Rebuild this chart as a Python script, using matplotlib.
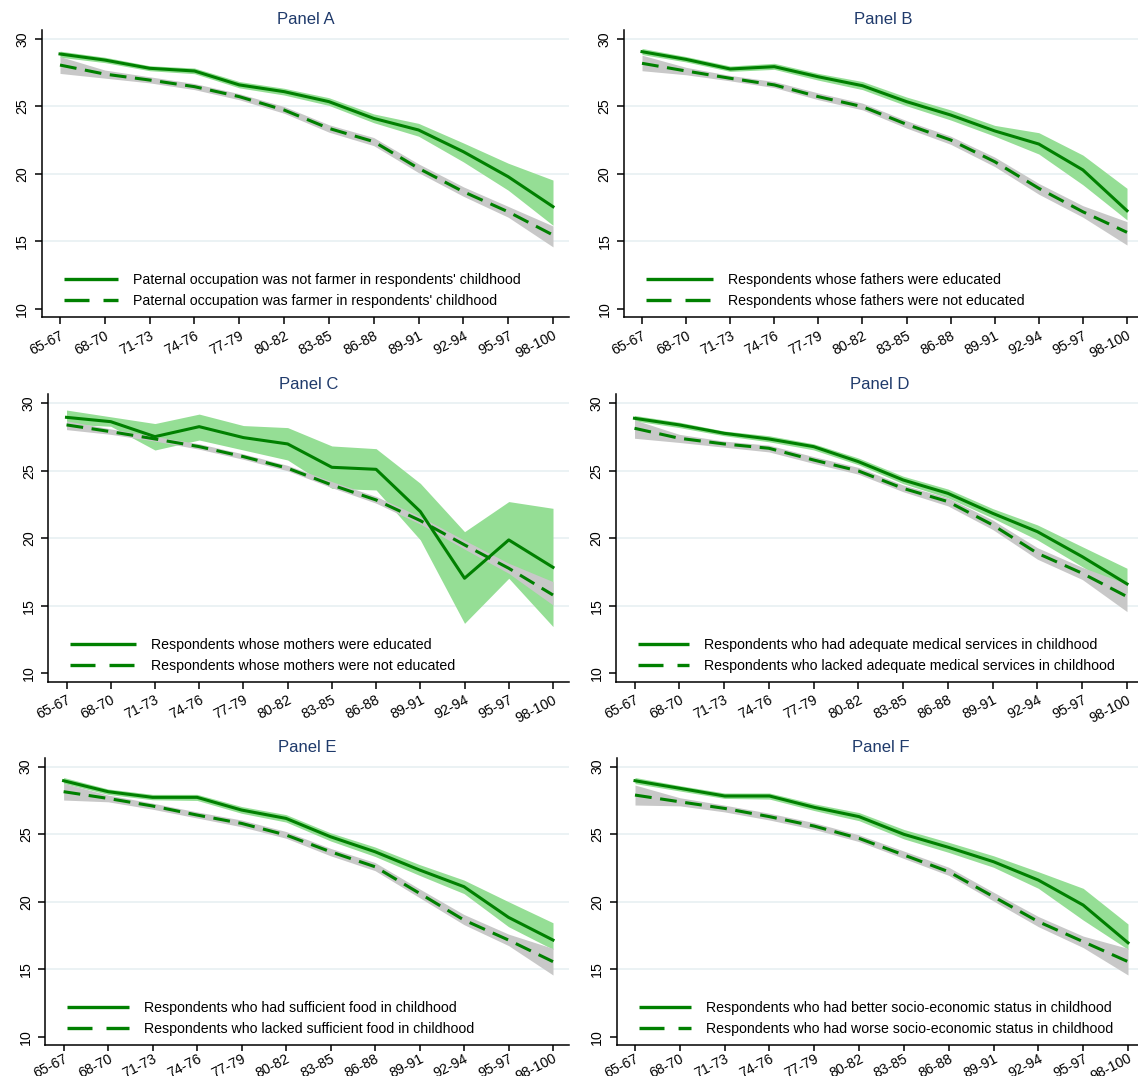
import matplotlib
matplotlib.use("Agg")
import matplotlib.pyplot as plt
import matplotlib.transforms as mtrans
from matplotlib.lines import Line2D

plt.rcParams['font.family'] = ['Liberation Sans', 'DejaVu Sans']

# age groups on the x axis
groups = ['65-67', '68-70', '71-73', '74-76', '77-79', '80-82',
          '83-85', '86-88', '89-91', '92-94', '95-97', '98-100']

# Panel A: paternal occupation
a_good = [28.89, 28.44, 27.83, 27.63, 26.60, 26.10, 25.36, 24.12, 23.26, 21.65, 19.80, 17.58]
a_good_lo = [28.65, 28.25, 27.65, 27.43, 26.38, 25.85, 25.08, 23.80, 22.80, 20.90, 18.80, 16.20]
a_good_hi = [29.10, 28.65, 28.02, 27.85, 26.85, 26.35, 25.65, 24.45, 23.75, 22.30, 20.80, 19.55]
a_bad = [28.07, 27.40, 26.96, 26.47, 25.73, 24.74, 23.38, 22.40, 20.42, 18.69, 17.20, 15.48]
a_bad_lo = [27.45, 27.10, 26.75, 26.25, 25.50, 24.50, 23.10, 22.10, 20.10, 18.35, 16.80, 14.60]
a_bad_hi = [28.70, 27.70, 27.20, 26.70, 25.95, 25.00, 23.65, 22.70, 20.75, 19.05, 17.60, 16.15]

# Panel B: father education
b_good = [29.06, 28.49, 27.78, 27.95, 27.20, 26.54, 25.36, 24.37, 23.19, 22.22, 20.30, 17.28]
b_good_lo = [28.85, 28.30, 27.60, 27.75, 26.95, 26.25, 25.05, 24.00, 22.80, 21.48, 19.20, 16.60]
b_good_hi = [29.30, 28.70, 28.00, 28.20, 27.45, 26.85, 25.70, 24.75, 23.60, 23.06, 21.40, 18.94]
b_bad = [28.20, 27.63, 27.09, 26.60, 25.73, 24.99, 23.68, 22.52, 20.91, 18.94, 17.20, 15.68]
b_bad_lo = [27.65, 27.35, 26.90, 26.40, 25.50, 24.75, 23.40, 22.20, 20.55, 18.50, 16.80, 14.74]
b_bad_hi = [28.80, 27.90, 27.30, 26.85, 26.00, 25.25, 23.95, 22.80, 21.25, 19.30, 17.65, 16.47]

# Panel C: mother education
c_good = [28.96, 28.64, 27.53, 28.27, 27.46, 26.99, 25.26, 25.11, 21.98, 17.04, 19.88, 17.85]
c_good_lo = [28.45, 28.30, 26.54, 27.28, 26.54, 25.80, 23.70, 23.58, 19.88, 13.70, 17.04, 13.46]
c_good_hi = [29.50, 29.00, 28.50, 29.20, 28.35, 28.20, 26.84, 26.64, 24.07, 20.49, 22.72, 22.22]
c_bad = [28.40, 27.90, 27.36, 26.79, 26.05, 25.19, 23.95, 22.84, 21.31, 19.51, 17.78, 15.80]
c_bad_lo = [28.05, 27.70, 27.20, 26.60, 25.85, 25.00, 23.75, 22.60, 21.05, 19.20, 17.40, 15.06]
c_bad_hi = [28.70, 28.10, 27.55, 27.00, 26.25, 25.40, 24.20, 23.10, 21.60, 19.85, 18.15, 16.79]

# Panel D: medical services
d_good = [28.89, 28.40, 27.78, 27.36, 26.79, 25.68, 24.32, 23.33, 21.85, 20.49, 18.64, 16.62]
d_good_lo = [28.70, 28.20, 27.60, 27.15, 26.55, 25.45, 24.05, 23.00, 21.50, 19.88, 17.90, 15.95]
d_good_hi = [29.10, 28.60, 27.95, 27.60, 27.00, 25.95, 24.60, 23.65, 22.20, 20.99, 19.38, 17.78]
d_bad = [28.15, 27.41, 26.99, 26.67, 25.80, 24.99, 23.70, 22.72, 20.99, 18.89, 17.41, 15.68]
d_bad_lo = [27.41, 27.10, 26.75, 26.40, 25.55, 24.75, 23.45, 22.40, 20.65, 18.45, 16.95, 14.57]
d_bad_hi = [28.77, 27.70, 27.20, 26.90, 26.05, 25.25, 23.95, 23.00, 21.35, 19.30, 17.85, 16.62]

# Panel E: food
e_good = [28.96, 28.15, 27.73, 27.73, 26.79, 26.17, 24.81, 23.70, 22.35, 21.11, 18.84, 17.16]
e_good_lo = [28.75, 27.95, 27.55, 27.50, 26.55, 25.90, 24.50, 23.35, 21.95, 20.60, 18.15, 16.47]
e_good_hi = [29.20, 28.35, 27.95, 27.95, 27.05, 26.45, 25.10, 24.05, 22.75, 21.60, 20.00, 18.44]
e_bad = [28.15, 27.65, 27.09, 26.42, 25.80, 24.94, 23.70, 22.59, 20.62, 18.64, 17.16, 15.56]
e_bad_lo = [27.53, 27.40, 26.85, 26.20, 25.55, 24.70, 23.40, 22.30, 20.30, 18.30, 16.75, 14.57]
e_bad_hi = [28.77, 27.90, 27.30, 26.65, 26.05, 25.20, 23.95, 22.90, 20.95, 19.05, 17.60, 16.54]

# Panel F: socio-economic status
f_good = [28.96, 28.40, 27.83, 27.83, 26.99, 26.30, 24.99, 24.02, 22.96, 21.60, 19.75, 16.96]
f_good_lo = [28.75, 28.20, 27.65, 27.60, 26.75, 26.00, 24.65, 23.65, 22.55, 20.99, 18.64, 16.47]
f_good_hi = [29.20, 28.60, 28.05, 28.05, 27.25, 26.60, 25.35, 24.40, 23.40, 22.22, 20.99, 18.35]
f_bad = [27.90, 27.40, 26.91, 26.30, 25.60, 24.69, 23.46, 22.22, 20.37, 18.52, 17.04, 15.56]
f_bad_lo = [27.16, 27.10, 26.65, 26.05, 25.35, 24.45, 23.20, 21.95, 20.05, 18.15, 16.60, 14.57]
f_bad_hi = [28.64, 27.70, 27.15, 26.55, 25.85, 24.95, 23.75, 22.55, 20.70, 18.90, 17.45, 16.54]

titles = ['Panel A', 'Panel B', 'Panel C', 'Panel D', 'Panel E', 'Panel F']
labels_good = ["Paternal occupation was not farmer in respondents' childhood",
               "Respondents whose fathers were educated",
               "Respondents whose mothers were educated",
               "Respondents who had adequate medical services in childhood",
               "Respondents who had sufficient food in childhood",
               "Respondents who had better socio-economic status in childhood"]
labels_bad = ["Paternal occupation was farmer in respondents' childhood",
              "Respondents whose fathers were not educated",
              "Respondents whose mothers were not educated",
              "Respondents who lacked adequate medical services in childhood",
              "Respondents who lacked sufficient food in childhood",
              "Respondents who had worse socio-economic status in childhood"]

panels = [
    (a_good, a_good_lo, a_good_hi, a_bad, a_bad_lo, a_bad_hi),
    (b_good, b_good_lo, b_good_hi, b_bad, b_bad_lo, b_bad_hi),
    (c_good, c_good_lo, c_good_hi, c_bad, c_bad_lo, c_bad_hi),
    (d_good, d_good_lo, d_good_hi, d_bad, d_bad_lo, d_bad_hi),
    (e_good, e_good_lo, e_good_hi, e_bad, e_bad_lo, e_bad_hi),
    (f_good, f_good_lo, f_good_hi, f_bad, f_bad_lo, f_bad_hi),
]

# layout in pixels: first tick x, last tick x, y of 30, y of 10
W, H = 1138, 1076
anchors = [(60, 553, 39, 309), (642, 1127, 39, 309),
           (66.5, 553, 403.3, 673.3), (634.5, 1127, 403.3, 673.3),
           (63.6, 553, 766.7, 1036.7), (635, 1128, 766.7, 1036.7)]
key_len = [54, 67, 66, 51, 62, 52]   # legend key length, px

XMIN, XMAX = -0.41, 11.36
YMIN, YMAX = 9.38, 30.67

GREEN = '#008000'
LTGREEN = '#95de95'
GRAY = '#c8c8c8'
GRID = '#e8f0f2'
NAVY = '#1f3a6b'
FS = 10.2
fs_px = FS * 100 / 72

fig = plt.figure(figsize=(W / 100, H / 100), dpi=100)
x = list(range(len(groups)))
shift = mtrans.ScaledTranslation(-4 / 100, 0, fig.dpi_scale_trans)

for i, (g, glo, ghi, b, blo, bhi) in enumerate(panels):
    x0, x11, y30, y10 = anchors[i]
    step = (x11 - x0) / 11
    ppu = (y10 - y30) / 20
    left = x0 + XMIN * step
    right = x0 + XMAX * step
    top = y30 - (YMAX - 30) * ppu
    bot = y10 + (10 - YMIN) * ppu
    ax = fig.add_axes([left / W, 1 - bot / H, (right - left) / W, (bot - top) / H])

    for yv in [15, 20, 25, 30]:
        ax.axhline(yv, color=GRID, lw=1.2, zorder=0)

    ax.fill_between(x, glo, ghi, color=LTGREEN, lw=0, zorder=1)
    ax.fill_between(x, blo, bhi, color=GRAY, lw=0, zorder=2)
    ax.plot(x, g, color=GREEN, lw=2.2, zorder=3)
    ax.plot(x, b, color=GREEN, lw=2.2, zorder=4, dashes=(5.5, 2.8))

    ax.set_xlim(XMIN, XMAX)
    ax.set_ylim(YMIN, YMAX)
    ax.set_xticks(x)
    ax.set_xticklabels(groups, rotation=27, ha='right', va='top',
                       rotation_mode='anchor', fontsize=FS)
    for lab in ax.get_xticklabels():
        lab.set_transform(lab.get_transform() + shift)
    ax.set_yticks([10, 15, 20, 25, 30])
    ax.set_yticklabels(['10', '15', '20', '25', '30'], rotation=90,
                       va='center', fontsize=FS)
    ax.tick_params(axis='both', direction='out', length=5, width=1.1, pad=3)
    ax.tick_params(axis='y', pad=4)
    if i >= 4:
        # bottom row sits tight against the lower edge
        ax.tick_params(axis='x', length=4, pad=0.5)
    for s in ['top', 'right']:
        ax.spines[s].set_visible(False)
    for s in ['left', 'bottom']:
        ax.spines[s].set_linewidth(1.1)

    ax.set_title(titles[i], color=NAVY, fontsize=12, pad=4)

    axw = right - left
    axh = bot - top
    handles = [Line2D([], [], color=GREEN, lw=2.4, solid_capstyle='butt'),
               Line2D([], [], color=GREEN, lw=2.4, dashes=(7.5, 4.2), dash_capstyle='butt')]
    ax.legend(handles, [labels_good[i], labels_bad[i]], loc='lower left',
              bbox_to_anchor=(22 / axw, 9 / axh), frameon=False, fontsize=FS,
              borderpad=0, borderaxespad=0, handlelength=key_len[i] / fs_px,
              handletextpad=15 / fs_px, labelspacing=0.5)

fig.savefig('out.png', dpi=100)
